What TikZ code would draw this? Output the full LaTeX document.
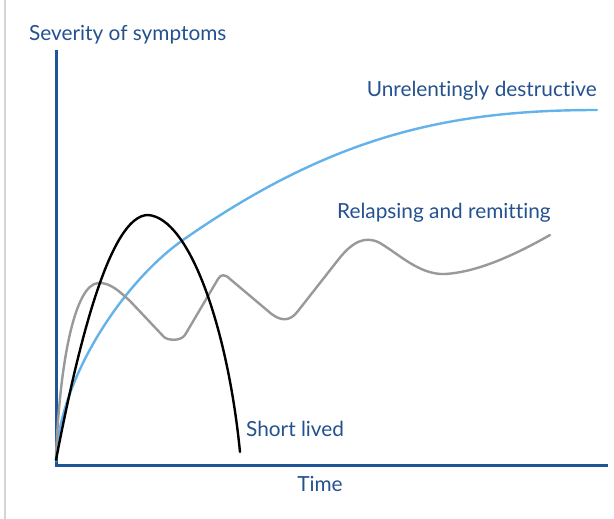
\documentclass[tikz,border=0pt]{standalone}
\usepackage{fontspec}
\setmainfont{Lato}[Ligatures={NoCommon}]
\definecolor{axisblue}{HTML}{1F5597}
\definecolor{textblue}{HTML}{24528F}
\definecolor{curveblue}{HTML}{63B3EA}
\definecolor{curvegray}{HTML}{999999}
\definecolor{framegray}{HTML}{D4D4D4}
\begin{document}
\begin{tikzpicture}[x=1pt,y=-1pt,
  lbl/.style={inner sep=0pt,text=textblue,font=\fontsize{20.8}{23}\selectfont},
  axisline/.style={draw=axisblue,line width=3pt},
  curve/.style={line width=2.4pt,line cap=round,line join=round}]
\useasboundingbox[fill=white] (0,0) rectangle (614,519);
\draw[framegray,line width=2.5pt] (5,0) -- (5,519);
% axes
\coordinate (ytop) at (56,50);
\coordinate (orig) at (56,465);
\coordinate (xend) at (608,465);
\draw[axisline] (ytop) -- (orig) -- (xend);
% labels
\node[lbl,anchor=base west] (ylab) at (29,41) {Severity of symptoms};
\node[lbl,anchor=base] (xlab) at (320,491) {Time};
\node[lbl,anchor=base east] (ud) at (597,97) {Unrelentingly destructive};
\node[lbl,anchor=base west] (rr) at (337,218) {Relapsing and remitting};
\node[lbl,anchor=base west] (sl) at (246,436) {Short lived};
% unrelentingly destructive
\draw[curve,curveblue] (56,461) .. controls (58,380) and (123,282) .. (183,240)
  .. controls (333,135) and (450,110) .. (597,110);
% relapsing and remitting
\draw[curve,curvegray] (56,456) .. controls (60,360) and (75,285) .. (98,283)
  .. controls (110,282) and (120,292) .. (130,301) -- (164,337)
  .. controls (167,340) and (180,342) .. (185,335) -- (218,279)
  .. controls (221,274) and (225,274) .. (230,279) -- (268,311)
  .. controls (280,322) and (290,322) .. (298,311) -- (338,260)
  .. controls (352,242) and (365,235) .. (380,243)
  .. controls (400,255) and (420,275) .. (445,274)
  .. controls (480,272) and (520,252) .. (550,235);
% short lived
\draw[curve,black] (56,460) .. controls (78,345) and (110,215) .. (148,215)
  .. controls (190,218) and (228,330) .. (240,452);
\end{tikzpicture}
\end{document}
